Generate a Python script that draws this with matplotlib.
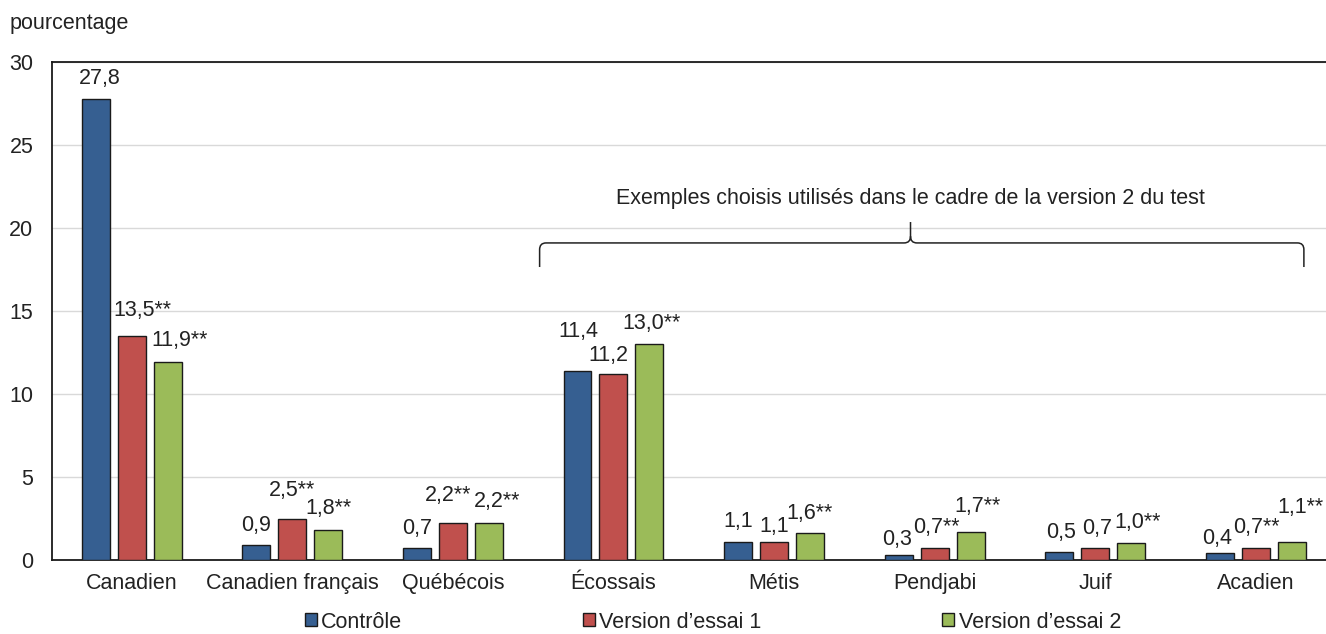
import matplotlib.pyplot as plt
import numpy as np
from matplotlib.patches import Patch, PathPatch
from matplotlib.path import Path

FS = 15.5
plt.rcParams.update({
    'font.family': ['Liberation Sans', 'DejaVu Sans'],
    'font.size': FS,
    'text.color': '#222222',
    'axes.labelcolor': '#222222',
    'xtick.color': '#222222',
    'ytick.color': '#222222',
})

# données
categories = ['Canadien', 'Canadien français', 'Québécois', 'Écossais',
              'Métis', 'Pendjabi', 'Juif', 'Acadien']
series = ['Contrôle', 'Version d\u2019essai 1', 'Version d\u2019essai 2']
controle = [27.8, 0.9, 0.7, 11.4, 1.1, 0.3, 0.5, 0.4]
essai1 = [13.5, 2.5, 2.2, 11.2, 1.1, 0.7, 0.7, 0.7]
essai2 = [11.9, 1.8, 2.2, 13.0, 1.6, 1.7, 1.0, 1.1]
# significativité (** = différence significative par rapport au contrôle)
sig1 = [True, True, True, False, False, True, False, True]
sig2 = [True, True, True, True, True, True, True, True]
sig0 = [False] * 8

colors = ['#365F91', '#C0504D', '#9BBB59']

# décalage des étiquettes (pixels) : (dx, dy), série par série
label_shift = [
    [(4, 0), (0, 0), (0, 0), (1, 19), (0, 0), (-2, -4), (2, -1), (-3, -5)],
    [(11, 5), (0, 8), (-5, 8), (-5, -1), (0, -5), (2, 1), (2, 0), (1, 1)],
    [(12, 2), (0, 2), (8, 2), (2, 1), (0, 0), (7, 5), (6, 1), (9, 14)],
]

fig = plt.figure(figsize=(13.26, 6.34), dpi=100)
ax = fig.add_axes([51.5 / 1326, 74 / 634, 1284.5 / 1326, 498 / 634])

x = np.arange(len(categories))
width = 0.174
step = 0.224
vals = [controle, essai1, essai2]
sigs = [sig0, sig1, sig2]

for i, (v, c) in enumerate(zip(vals, colors)):
    pos = x + (i - 1) * step
    ax.bar(pos, v, width=width, color=c, edgecolor='#1a1a1a',
           linewidth=1.0, zorder=3)
    for j, (p, val) in enumerate(zip(pos, v)):
        txt = f'{val:.1f}'.replace('.', ',') + ('**' if sigs[i][j] else '')
        dx, dy = label_shift[i][j]
        ax.annotate(txt, xy=(p, val), xytext=(dx, 20 + dy),
                    textcoords='offset pixels', ha='center', va='center',
                    fontsize=FS, zorder=4)

ax.set_xlim(-0.5, len(categories) - 0.5)
ax.set_ylim(0, 30)
ax.set_yticks(np.arange(0, 31, 5))
ax.set_xticks(x, categories)
ax.tick_params(axis='both', length=0, labelsize=FS)
ax.tick_params(axis='y', pad=13)
ax.tick_params(axis='x', pad=9.5)
ax.grid(axis='y', color='#d9d9d9', linewidth=1.0, zorder=0)
ax.set_axisbelow(True)
for s in ['left', 'bottom', 'top']:
    ax.spines[s].set_color('#1a1a1a')
    ax.spines[s].set_linewidth(1.3)
ax.spines['right'].set_visible(False)

# accolade au-dessus des exemples choisis
x0, x1, xm = 2.54, 7.30, 4.85
y_end, y_h, y_tip = 17.65, 19.1, 20.36
rx, ry = 0.04, 0.4
verts = [(x0, y_end), (x0, y_h - ry), (x0, y_h), (x0 + rx, y_h),
         (xm - rx, y_h), (xm, y_h), (xm, y_h + ry), (xm, y_tip),
         (xm, y_h + ry), (xm, y_h), (xm + rx, y_h),
         (x1 - rx, y_h), (x1, y_h), (x1, y_h - ry), (x1, y_end)]
codes = [Path.MOVETO, Path.LINETO, Path.CURVE3, Path.CURVE3,
         Path.LINETO, Path.CURVE3, Path.CURVE3, Path.LINETO,
         Path.MOVETO, Path.CURVE3, Path.CURVE3,
         Path.LINETO, Path.CURVE3, Path.CURVE3, Path.LINETO]
ax.add_patch(PathPatch(Path(verts, codes), fill=False, edgecolor='#222222',
                       linewidth=1.1, zorder=4, clip_on=False))
ax.text(xm, 21.8, 'Exemples choisis utilisés dans le cadre de la version 2 du test',
        ha='center', va='center', fontsize=FS)

fig.text(10 / 1326, 1 - 23 / 634, 'pourcentage', ha='left', va='center',
         fontsize=FS)

handles = [Patch(facecolor=c, edgecolor='#1a1a1a', linewidth=1.0) for c in colors]
fig.legend(handles, series, loc='center', bbox_to_anchor=(713 / 1326, 1 - 622 / 634),
           ncol=3, frameon=False, handlelength=0.55, handleheight=0.55,
           handletextpad=0.2, columnspacing=8.4, fontsize=FS,
           borderaxespad=0, borderpad=0)

fig.savefig('out.png', dpi=100)
